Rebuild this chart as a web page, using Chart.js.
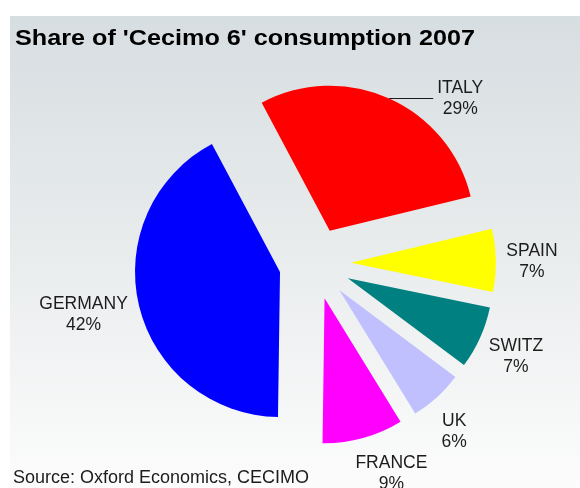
<!DOCTYPE html>
<html>
<head>
<meta charset="utf-8">
<script src="https://cdn.jsdelivr.net/npm/chart.js@4.4.1/dist/chart.umd.min.js"></script>
<style>
  html, body { margin: 0; padding: 0; background: #ffffff; }
  #wrap { width: 580px; height: 488px; }
</style>
</head>
<body>
<div id="wrap"><canvas id="c" width="580" height="488"></canvas></div>
<script>
// ---- data ----
const categories = ['ITALY', 'SPAIN', 'SWITZ', 'UK', 'FRANCE', 'GERMANY'];
const shares = [29, 7, 7, 6, 9, 42];
const shareLabels = ['29%', '7%', '7%', '6%', '9%', '42%'];
const chartTitle = "Share of 'Cecimo 6' consumption 2007";
const sourceNote = 'Source: Oxford Economics, CECIMO';

// ---- styles ----
const sliceColors = ['#ff0000', '#ffff00', '#008080', '#c0c0ff', '#ff00ff', '#0000ff'];
const explodeDist = 36;
const labelGap = 35;
const labelNudge = [[0, 0], [1, 0.5], [4, 3], [-6.5, 7.5], [19, 0], [-21.5, -1.5]];
const leaderIndex = 0;
const leaderLength = 44;
const labelFont = '17.5px "Liberation Sans", Arial, sans-serif';
const labelLineGap = 21;
const textColor = '#1c1c1c';

const bgPlugin = {
  id: 'bg',
  beforeDraw(chart) {
    const ctx = chart.ctx;
    ctx.save();
    ctx.fillStyle = '#ffffff';
    ctx.fillRect(0, 0, chart.width, chart.height);
    const g = ctx.createLinearGradient(0, 16, 0, chart.height);
    g.addColorStop(0, '#d7dee1');
    g.addColorStop(0.5, '#e9eced');
    g.addColorStop(1, '#fcfcfc');
    ctx.fillStyle = g;
    ctx.fillRect(10, 16, chart.width - 10, chart.height - 16);
    ctx.restore();
  }
};

function midDir(el) {
  const m = (el.startAngle + el.endAngle) / 2;
  return [Math.cos(m), Math.sin(m)];
}

const explodePlugin = {
  id: 'explode',
  beforeDatasetsDraw(chart) {
    chart.getDatasetMeta(0).data.forEach(el => {
      const [dx, dy] = midDir(el);
      el.x += dx * explodeDist;
      el.y += dy * explodeDist;
    });
  },
  afterDatasetsDraw(chart) {
    chart.getDatasetMeta(0).data.forEach(el => {
      const [dx, dy] = midDir(el);
      el.x -= dx * explodeDist;
      el.y -= dy * explodeDist;
    });
  }
};

function drawBlock(ctx, cx, cy, l1, l2) {
  const capOff = 0.358 * 17.5;
  ctx.fillText(l1, cx, cy - labelLineGap / 2 + capOff);
  ctx.fillText(l2, cx, cy + labelLineGap / 2 + capOff);
}

const textPlugin = {
  id: 'texts',
  afterDraw(chart) {
    const ctx = chart.ctx;
    ctx.save();
    // title
    ctx.fillStyle = '#000000';
    ctx.font = 'bold 22px "Liberation Sans", Arial, sans-serif';
    ctx.textAlign = 'left';
    ctx.textBaseline = 'alphabetic';
    ctx.save();
    ctx.translate(15, 45);
    ctx.scale(1.145, 1);
    ctx.fillText(chartTitle, 0, 0);
    ctx.restore();
    // source
    ctx.fillStyle = textColor;
    ctx.font = '18px "Liberation Sans", Arial, sans-serif';
    ctx.fillText(sourceNote, 13, 483);
    // slice labels
    ctx.font = labelFont;
    ctx.textAlign = 'center';
    chart.getDatasetMeta(0).data.forEach((el, i) => {
      const [dx, dy] = midDir(el);
      const sx = el.x + dx * explodeDist;
      const sy = el.y + dy * explodeDist;
      const R = el.outerRadius;
      if (i === leaderIndex) {
        const ax = sx + dx * R, ay = sy + dy * R;
        ctx.strokeStyle = textColor;
        ctx.lineWidth = 1;
        ctx.beginPath();
        ctx.moveTo(ax, Math.round(ay) + 0.5);
        ctx.lineTo(ax + leaderLength, Math.round(ay) + 0.5);
        ctx.stroke();
        drawBlock(ctx, ax + leaderLength + 27, ay - 1, categories[i], shareLabels[i]);
      } else {
        const px = sx + dx * (R + labelGap) + labelNudge[i][0];
        const py = sy + dy * (R + labelGap) + labelNudge[i][1];
        drawBlock(ctx, px, py, categories[i], shareLabels[i]);
      }
    });
    ctx.restore();
  }
};

new Chart(document.getElementById('c'), {
  type: 'pie',
  data: {
    labels: categories,
    datasets: [{
      data: shares,
      backgroundColor: sliceColors,
      borderWidth: 0,
      hoverOffset: 0
    }]
  },
  options: {
    responsive: false,
    animation: false,
    devicePixelRatio: 1,
    events: [],
    rotation: -28,
    radius: 145,
    layout: { padding: { left: 50, right: 0, top: 39, bottom: 0 } },
    plugins: {
      legend: { display: false },
      title: { display: false },
      tooltip: { enabled: false }
    }
  },
  plugins: [bgPlugin, explodePlugin, textPlugin]
});
</script>
</body>
</html>
